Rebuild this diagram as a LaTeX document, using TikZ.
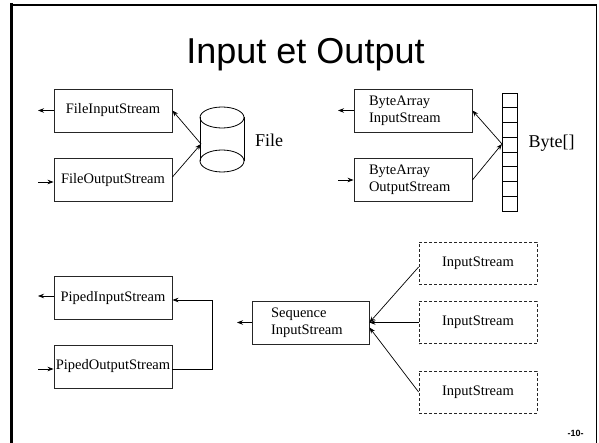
\documentclass[tikz,border=0pt]{standalone}
\usepackage{fontspec}
\setmainfont{Liberation Serif}
\newfontfamily\arialfont{Liberation Sans}
\usetikzlibrary{arrows.meta}
\begin{document}
\begin{tikzpicture}[x=1pt,y=-1pt,
  box/.style={draw=black!85,line width=0.9pt,minimum width=118pt,minimum height=43pt,inner sep=0pt,font=\fontsize{14.5}{17}\selectfont},
  twoline/.style={box,align=left,text width=88pt,inner xsep=15pt},
  dbox/.style={box,dash pattern=on 3pt off 2pt,line width=0.8pt,minimum height=42pt},
  arr/.style={line width=0.7pt,-{Stealth[length=6pt,width=4.5pt]}},
  lbl/.style={font=\fontsize{18}{20}\selectfont}]
\useasboundingbox (0,0) rectangle (599,443);
% frame
\draw[line width=3pt] (11.5,3.5) -- (11.5,443);
\draw[line width=2pt] (10,5) -- (597,5);
\draw[line width=1pt] (596,5) -- (596,443);
% title
\node[anchor=base,font=\arialfont\fontsize{36}{40}\selectfont,inner sep=0pt] (title) at (305.5,64) {Input et Output};
% File group
\node[box] (fis) at (113,110.5) {FileInputStream};
\node[box] (fos) at (113,180) {FileOutputStream};
\draw[line width=0.8pt] (222,117.5) ellipse [x radius=22,y radius=10.5];
\draw[line width=0.8pt] (222,161) ellipse [x radius=22,y radius=11];
\draw[line width=0.8pt] (200,117.5) -- (200,161) (244,117.5) -- (244,161);
\coordinate (file) at (201,144);
\node[lbl] (filelbl) at (269,140) {File};
\coordinate (fisout) at (38,110.5);
\coordinate (fosin) at (38,182);
\draw[arr] (fis.west) -- (fisout);
\draw[arr] (fosin) -- (fis.west |- fosin);
\draw[arr] (file) -- (fis.east);
\draw[arr] ([yshift=3pt]fos.east) -- (file);
% ByteArray group
\node[twoline] (bis) at (413,110.5) {ByteArray\\InputStream};
\node[twoline] (bos) at (413,180) {ByteArray\\OutputStream};
\node[draw,line width=0.8pt,minimum width=15pt,minimum height=118pt,inner sep=0pt] (strip) at (509.5,152) {};
\foreach \i in {1,...,7}{\draw[line width=0.8pt] (502,{93+14.75*\i}) -- (517,{93+14.75*\i});}
\coordinate (bytes) at (502,144);
\node[lbl] (bytelbl) at (551.5,143) {Byte[]};
\coordinate (bisout) at (338,110.5);
\coordinate (bosin) at (338,180);
\draw[arr] (bis.west) -- (bisout);
\draw[arr] (bosin) -- (bos.west);
\draw[arr] (bytes) -- (bis.east);
\draw[arr] ([yshift=0pt]bos.east) -- (bytes);
% Piped group
\node[box] (pis) at (113,298) {PipedInputStream};
\node[box] (pos) at (113,366.5) {PipedOutputStream};
\coordinate (pisout) at (38,296);
\coordinate (posin) at (38,369);
\draw[arr] (pis.west |- pisout) -- (pisout);
\draw[arr] (posin) -- (pos.west |- posin);
\draw[line width=0.7pt,-{Stealth[length=6pt,width=4.5pt]}] (pos.east |- posin) -- (212,369) -- (212,300) -- (pis.east |- 0,300);
% Sequence group
\node[box,align=left,text width=79pt,inner xsep=19pt,minimum width=117pt] (seq) at (310.5,322.5) {Sequence\\InputStream};
\node[dbox] (is1) at (478,263) {InputStream};
\node[dbox] (is2) at (478,322.5) {InputStream};
\node[dbox] (is3) at (478,392) {InputStream};
\coordinate (seqout) at (237,322.5);
\draw[arr] (seq.west) -- (seqout);
\draw[arr] ([yshift=-4pt]is1.west) -- (seq.east);
\draw[arr] (is2.west) -- (seq.east);
\draw[arr] (is3.west) -- ([yshift=-5pt]seq.east);
% page number
\node[font=\arialfont\bfseries\fontsize{9}{10}\selectfont,inner sep=0pt] (pg) at (575.5,433) {-10-};
\end{tikzpicture}
\end{document}
